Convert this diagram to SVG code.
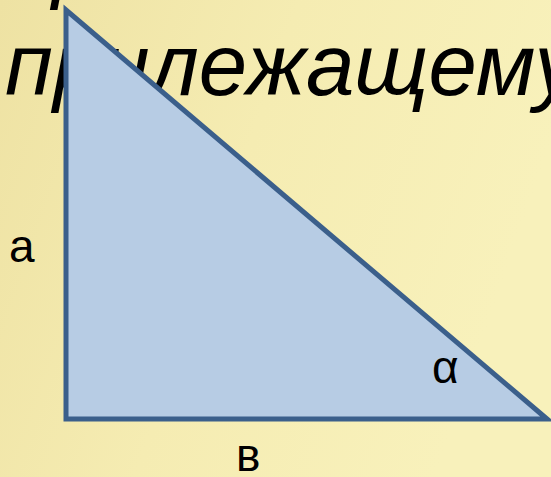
<svg xmlns="http://www.w3.org/2000/svg" width="551" height="477" viewBox="0 0 551 477">
<defs>
<linearGradient id="bg" x1="0" y1="0" x2="1" y2="0.3">
<stop offset="0" stop-color="#EEE2A3"/>
<stop offset="0.5" stop-color="#F5ECB2"/>
<stop offset="1" stop-color="#F8F1BB"/>
</linearGradient>
<style>
.big{font-family:"Liberation Sans",Arial,sans-serif;font-style:italic;font-size:87px;fill:#000}
.lbl{font-family:"Liberation Sans",Arial,sans-serif;font-size:46px;fill:#000}
</style>
</defs>
<rect width="551" height="477" fill="url(#bg)"/>
<g id="title">
<text class="big" x="52" y="-8">р</text>
<text class="big" x="5" y="95">прилежащему</text>
</g>
<g id="triangle">
<polygon points="66,10 66,419 547,419" fill="#B7CCE4" stroke="#3B5F8B" stroke-width="5" stroke-linejoin="miter"/>
</g>
<g id="labels">
<text class="lbl" x="9" y="262">a</text>
<text class="lbl" x="432" y="383">α</text>
<text class="lbl" x="236" y="471">в</text>
</g>
</svg>
